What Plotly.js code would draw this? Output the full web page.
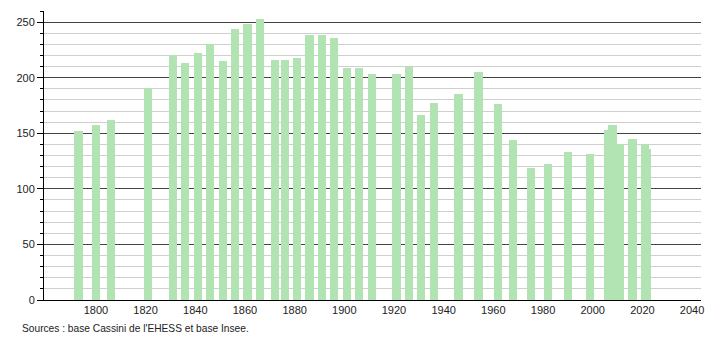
<!DOCTYPE html>
<html>
<head>
<meta charset="utf-8">
<script src="https://cdn.plot.ly/plotly-3.0.1.min.js"></script>
<style>html,body{margin:0;padding:0;background:#fff;}#chart{width:710px;height:340px;}</style>
</head>
<body>
<div id="chart"></div>
<script>
const years = [1793, 1800, 1806, 1821, 1831, 1836, 1841, 1846, 1851, 1856, 1861, 1866,
  1872, 1876, 1881, 1886, 1891, 1896, 1901, 1906, 1911, 1921, 1926, 1931, 1936,
  1946, 1954, 1962, 1968, 1975, 1982, 1990, 1999, 2006, 2008, 2011, 2016, 2021, 2022];
const population = [152, 157, 162, 191, 220, 213, 222, 230, 215, 244, 248, 253,
  216, 216, 218, 238, 238, 236, 209, 209, 203, 203, 210, 166, 177,
  185, 205, 176, 144, 119, 122, 133, 131, 153, 157, 140, 145, 140, 136];
const xTickVals = [1800, 1820, 1840, 1860, 1880, 1900, 1920, 1940, 1960, 1980, 2000, 2020, 2040];
const yTickVals = [0, 50, 100, 150, 200, 250];
const sourceText = "Sources : base Cassini de l'EHESS et base Insee.";

const trace = {
  type: 'bar',
  x: years,
  y: population,
  width: 3.3,
  marker: {color: '#b2e3b2', line: {width: 0}},
  hoverinfo: 'x+y'
};

const layout = {
  width: 710, height: 340,
  margin: {l: 44, r: 9, t: 11, b: 40},
  paper_bgcolor: '#fff', plot_bgcolor: '#fff',
  font: {family: 'Liberation Sans, Arial, sans-serif', size: 11, color: '#222'},
  showlegend: false,
  bargap: 0,
  xaxis: {
    range: [1779.1, 2043.6],
    tickvals: xTickVals,
    ticktext: xTickVals.map(String),
    showgrid: false, zeroline: false,
    showline: true, linecolor: '#000', linewidth: 1,
    ticks: '', ticklen: 0,
    tickfont: {size: 11, color: '#222'}
  },
  yaxis: {
    range: [0, 260],
    tickvals: yTickVals,
    showgrid: true, gridcolor: '#444', gridwidth: 1,
    zeroline: false,
    showline: true, linecolor: '#000', linewidth: 1,
    ticks: 'outside', ticklen: 6, tickcolor: '#000', tickwidth: 1,
    tickfont: {size: 11, color: '#222'},
    minor: {dtick: 10, tick0: 0, showgrid: true, gridcolor: '#cfcfcf', gridwidth: 1,
            ticks: 'outside', ticklen: 3, tickcolor: '#000'}
  },
  annotations: [{
    text: sourceText,
    xref: 'paper', yref: 'paper',
    x: -0.0365, y: -0.097,
    xanchor: 'left', yanchor: 'middle',
    showarrow: false,
    font: {size: 10.2, color: '#222'}
  }]
};

Plotly.newPlot('chart', [trace], layout, {staticPlot: true, displayModeBar: false});
</script>
</body>
</html>
